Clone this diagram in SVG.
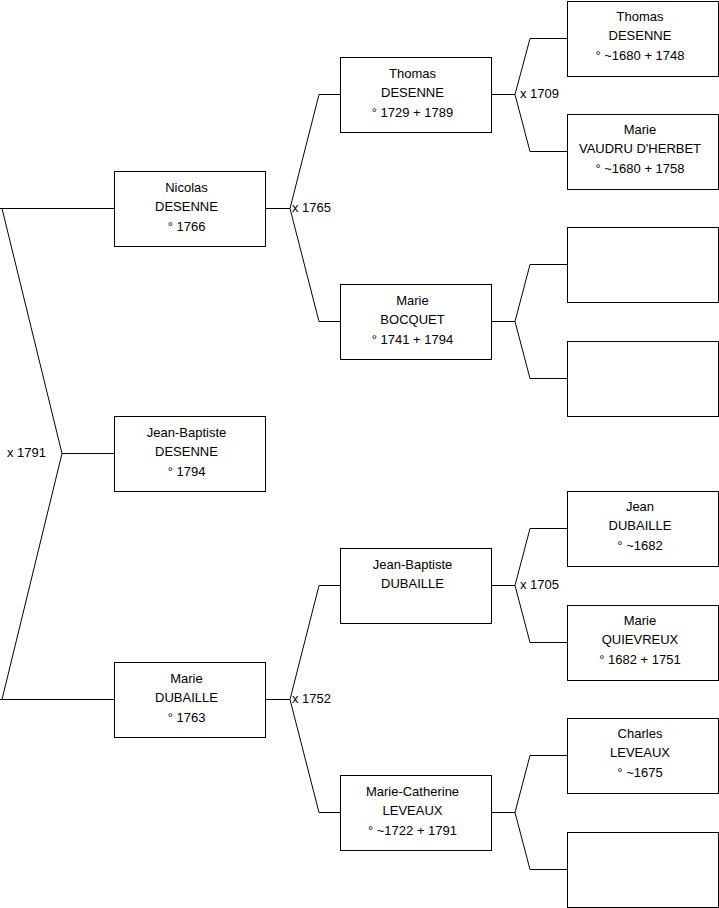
<svg xmlns="http://www.w3.org/2000/svg" width="719" height="908" viewBox="0 0 719 908">
<style>
.box{fill:#fff;stroke:#000;stroke-width:1}
.t{font-family:"Liberation Sans",Arial,sans-serif;font-size:13px;fill:#000;text-anchor:middle}
.lbl{font-family:"Liberation Sans",Arial,sans-serif;font-size:13px;fill:#000}
.con{fill:none;stroke:#000;stroke-width:1}
</style>
<rect width="719" height="908" fill="#fff"/>
<g id="connectors" class="con">
<path d="M0 208.5 H114 M2 208.5 L62 453.5 L2 699.5 M0 699.5 H114 M62 453.5 H114"/>
<path d="M266 208.5 H290 M319 94.5 L290 208.5 L319 321.5 M319 94.5 H340 M319 321.5 H340"/>
<path d="M266 699.5 H290 M319 585.5 L290 699.5 L319 812.5 M319 585.5 H340 M319 812.5 H340"/>
<path d="M491.5 94.5 H515 M530 38.5 L515 94.5 L530 151.5 M530 38.5 H567 M530 151.5 H567"/>
<path d="M491.5 321.5 H515 M530 264.5 L515 321.5 L530 378.5 M530 264.5 H567 M530 378.5 H567"/>
<path d="M491.5 585.5 H515 M530 528.5 L515 585.5 L530 642.5 M530 528.5 H567 M530 642.5 H567"/>
<path d="M491.5 812.5 H515 M530 755.5 L515 812.5 L530 869.5 M530 755.5 H567 M530 869.5 H567"/>
</g>
<g id="labels">
<text class="lbl" x="7" y="457">x 1791</text>
<text class="lbl" x="292" y="212">x 1765</text>
<text class="lbl" x="292" y="703">x 1752</text>
<text class="lbl" x="520" y="98">x 1709</text>
<text class="lbl" x="520" y="589">x 1705</text>
</g>
<g id="nicolas-desenne">
<rect class="box" x="114.5" y="171.5" width="151" height="75"/>
<text class="t" x="186.5" y="191.5">Nicolas</text>
<text class="t" x="186.5" y="211">DESENNE</text>
<text class="t" x="186.5" y="230.5">° 1766</text>
</g>
<g id="jean-baptiste-desenne">
<rect class="box" x="114.5" y="416.5" width="151" height="75"/>
<text class="t" x="186.5" y="436.5">Jean-Baptiste</text>
<text class="t" x="186.5" y="456">DESENNE</text>
<text class="t" x="186.5" y="475.5">° 1794</text>
</g>
<g id="marie-dubaille">
<rect class="box" x="114.5" y="662.5" width="151" height="75"/>
<text class="t" x="186.5" y="682.5">Marie</text>
<text class="t" x="186.5" y="702">DUBAILLE</text>
<text class="t" x="186.5" y="721.5">° 1763</text>
</g>
<g id="thomas-desenne-1729">
<rect class="box" x="340.5" y="57.5" width="151" height="75"/>
<text class="t" x="412.5" y="77.5">Thomas</text>
<text class="t" x="412.5" y="97">DESENNE</text>
<text class="t" x="412.5" y="116.5">° 1729 + 1789</text>
</g>
<g id="marie-bocquet">
<rect class="box" x="340.5" y="284.5" width="151" height="75"/>
<text class="t" x="412.5" y="304.5">Marie</text>
<text class="t" x="412.5" y="324">BOCQUET</text>
<text class="t" x="412.5" y="343.5">° 1741 + 1794</text>
</g>
<g id="jean-baptiste-dubaille">
<rect class="box" x="340.5" y="548.5" width="151" height="75"/>
<text class="t" x="412.5" y="568.5">Jean-Baptiste</text>
<text class="t" x="412.5" y="588">DUBAILLE</text>
</g>
<g id="marie-catherine-leveaux">
<rect class="box" x="340.5" y="775.5" width="151" height="75"/>
<text class="t" x="412.5" y="795.5">Marie-Catherine</text>
<text class="t" x="412.5" y="815">LEVEAUX</text>
<text class="t" x="412.5" y="834.5">° ~1722 + 1791</text>
</g>
<g id="thomas-desenne-1680">
<rect class="box" x="567.5" y="1.5" width="151" height="75"/>
<text class="t" x="640" y="20.5">Thomas</text>
<text class="t" x="640" y="40">DESENNE</text>
<text class="t" x="640" y="59.5">° ~1680 + 1748</text>
</g>
<g id="marie-vaudru">
<rect class="box" x="567.5" y="114.5" width="151" height="75"/>
<text class="t" x="640" y="133.5">Marie</text>
<text class="t" x="640" y="153">VAUDRU D'HERBET</text>
<text class="t" x="640" y="172.5">° ~1680 + 1758</text>
</g>
<g id="empty-1">
<rect class="box" x="567.5" y="227.5" width="151" height="75"/>
</g>
<g id="empty-2">
<rect class="box" x="567.5" y="341.5" width="151" height="75"/>
</g>
<g id="jean-dubaille">
<rect class="box" x="567.5" y="491.5" width="151" height="75"/>
<text class="t" x="640" y="510.5">Jean</text>
<text class="t" x="640" y="530">DUBAILLE</text>
<text class="t" x="640" y="549.5">° ~1682</text>
</g>
<g id="marie-quievreux">
<rect class="box" x="567.5" y="605.5" width="151" height="75"/>
<text class="t" x="640" y="624.5">Marie</text>
<text class="t" x="640" y="644">QUIEVREUX</text>
<text class="t" x="640" y="663.5">° 1682 + 1751</text>
</g>
<g id="charles-leveaux">
<rect class="box" x="567.5" y="718.5" width="151" height="75"/>
<text class="t" x="640" y="737.5">Charles</text>
<text class="t" x="640" y="757">LEVEAUX</text>
<text class="t" x="640" y="776.5">° ~1675</text>
</g>
<g id="empty-3">
<rect class="box" x="567.5" y="832.5" width="151" height="75"/>
</g>
</svg>
